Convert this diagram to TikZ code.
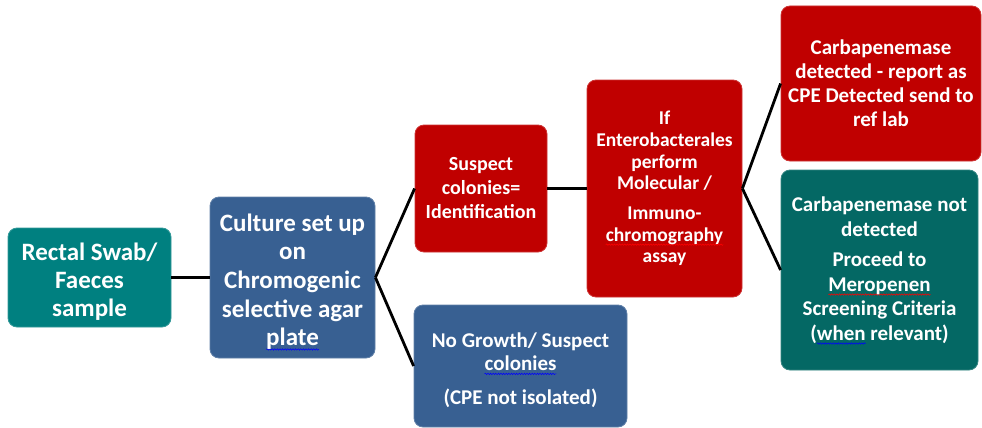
\documentclass[tikz,border=0pt]{standalone}
\usepackage{fontspec}
\setmainfont{Carlito}
\usetikzlibrary{decorations.pathmorphing}
\newsavebox\wavbox
\newlength\wavlen
\newcommand\wav[2]{\sbox\wavbox{#2}\setlength\wavlen{\wd\wavbox}\leavevmode\rlap{\tikz[overlay,baseline=0pt,x=1pt,y=1pt,sharp corners]\draw[#1,line width=0.55pt,sharp corners,decorate,decoration={snake,amplitude=0.7pt,segment length=2.6pt}] (0pt,-3.5pt) -- (\wavlen,-3.5pt);}\usebox\wavbox}
\newcommand\topstrut[1]{\rule{0pt}{#1}}
\definecolor{cteal}{RGB}{0,128,128}
\definecolor{cblue}{RGB}{56,96,146}
\definecolor{cred}{RGB}{192,0,0}
\definecolor{cdteal}{RGB}{4,104,100}
\begin{document}
\begin{tikzpicture}[x=1pt,y=-1pt,
  box/.style={rounded corners=9pt, draw=#1!80!white, fill=#1, line width=0.8pt,
    text=white, align=center, inner sep=0pt},
  conn/.style={line width=2.8pt, black}]
\useasboundingbox (0,0) rectangle (982,428);

\node[box=cteal, minimum width=163pt, minimum height=99pt,
  font=\bfseries\fontsize{25}{28}\selectfont] (rectal) at (89.5,277.5)
  {\topstrut{26pt}Rectal Swab/\\ Faeces\\ sample};

\node[box=cblue, minimum width=165pt, minimum height=161pt,
  font=\bfseries\fontsize{25}{28.7}\selectfont] (culture) at (292.5,277.5)
  {\topstrut{26pt}Culture set up\\ on\\ Chromogenic\\ selective agar\\ \wav{blue}{plate}};

\node[box=cred, minimum width=132pt, minimum height=127pt,
  font=\bfseries\fontsize{20}{24}\selectfont] (suspect) at (481,188.5)
  {Suspect\\ colonies=\\ Identification};

\node[box=cred, minimum width=155pt, minimum height=217pt,
  font=\bfseries\fontsize{19.5}{21.7}\selectfont] (ifent) at (664.5,188.5)
  {If\\ Enterobacterales\\ perform\\ Molecular /\\[8pt] Immuno-\\ \wav{red}{chromography}\\ assay};

\node[box=cblue, minimum width=213pt, minimum height=122pt,
  font=\bfseries\fontsize{21}{23.4}\selectfont] (nogrowth) at (520.5,366)
  {\topstrut{23pt}No Growth/ Suspect\\ \wav{blue}{colonies}\\[11pt] (CPE not isolated)};

\node[box=cred, minimum width=200pt, minimum height=155pt,
  font=\bfseries\fontsize{21}{24}\selectfont] (carbdet) at (881,83.5)
  {Carbapenemase\\ detected - report as\\ CPE Detected send to\\ ref lab};

\node[box=cdteal, minimum width=197pt, minimum height=200pt,
  font=\bfseries\fontsize{21}{24.5}\selectfont] (notdet) at (879.5,270)
  {Carbapenemase not\\ detected\\[6pt] Proceed to\\ \wav{red}{Meropenen}\\ Screening Criteria\\ (\wav{blue}{when} relevant)};

\draw[conn] (rectal.east) -- (culture.west);
\draw[conn] (culture.east) -- (suspect.west);
\draw[conn] (culture.east) -- (nogrowth.west);
\draw[conn] (suspect.east) -- (ifent.west);
\draw[conn] (ifent.east) -- (carbdet.west);
\draw[conn] (ifent.east) -- (notdet.west);
\end{tikzpicture}
\end{document}
